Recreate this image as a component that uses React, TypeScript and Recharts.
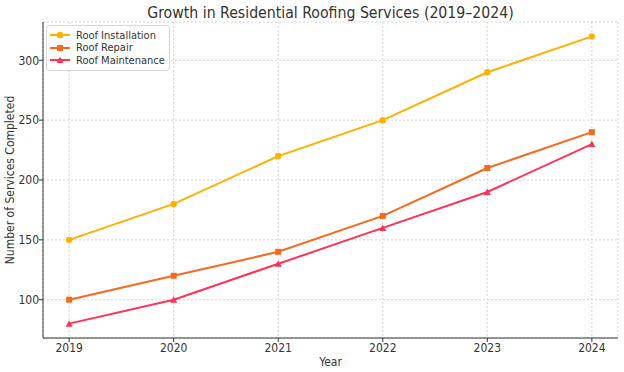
import { LineChart, Line, XAxis, YAxis, CartesianGrid } from "recharts"

// Services completed per year
const years = [2019, 2020, 2021, 2022, 2023, 2024]
const installation = [150, 180, 220, 250, 290, 320]
const repair = [100, 120, 140, 170, 210, 240]
const maintenance = [80, 100, 130, 160, 190, 230]
const yTicks = [100, 150, 200, 250, 300]

const data = years.map((year, i) => ({
  year,
  installation: installation[i],
  repair: repair[i],
  maintenance: maintenance[i],
}))

const series = [
  { key: "installation", name: "Roof Installation", color: "#ffb000", shape: "circle" },
  { key: "repair", name: "Roof Repair", color: "#f7691e", shape: "square" },
  { key: "maintenance", name: "Roof Maintenance", color: "#ff3355", shape: "triangle" },
]

const FONT = "'DejaVu Sans Condensed', 'Liberation Sans', sans-serif"

function Marker({ cx, cy, shape, color }: any) {
  if (cx == null || cy == null) return null
  if (shape === "square") {
    return <rect x={cx - 3} y={cy - 3} width={6} height={6} fill={color} />
  }
  if (shape === "triangle") {
    return <polygon points={`${cx},${cy - 3.5} ${cx - 3.5},${cy + 3} ${cx + 3.5},${cy + 3}`} fill={color} />
  }
  return <circle cx={cx} cy={cy} r={3.2} fill={color} />
}

// legend drawn as plain html so it sits inside the plot like matplotlib's
function LegendBox() {
  return (
    <div
      style={{
        position: "absolute",
        left: 46,
        top: 25,
        border: "1px solid #d8d8d8",
        borderRadius: 3,
        background: "rgba(255,255,255,0.85)",
        padding: "3px 4px 3px 3px",
        fontFamily: FONT,
        fontSize: 11,
        color: "#333",
        whiteSpace: "nowrap",
      }}
    >
      {series.map((s) => (
        <div key={s.key} style={{ display: "flex", alignItems: "center", height: 12.5 }}>
          <svg width={20} height={10} style={{ marginRight: 6 }}>
            <line x1={0} y1={5} x2={20} y2={5} stroke={s.color} strokeWidth={2} />
            <Marker cx={10} cy={5} shape={s.shape} color={s.color} />
          </svg>
          <span>{s.name}</span>
        </div>
      ))}
    </div>
  )
}

export default function App() {
  return (
    <div style={{ position: "absolute", left: 0, top: 0, width: 624, height: 372, background: "#fff" }}>
      <div
        style={{
          position: "absolute",
          left: 43,
          width: 575,
          top: 3,
          textAlign: "center",
          fontFamily: FONT,
          fontSize: 15.7,
          color: "#333",
        }}
      >
        Growth in Residential Roofing Services (2019–2024)
      </div>
      <LineChart width={624} height={372} data={data} margin={{ top: 22, right: 6, bottom: 0, left: 0 }}>
        <CartesianGrid stroke="#d4d4d4" strokeDasharray="2 2" />
        <XAxis
          dataKey="year"
          type="number"
          domain={[2018.75, 2024.25]}
          ticks={years}
          allowDataOverflow
          height={34}
          tickSize={4}
          tickMargin={1}
          stroke="#333"
          tick={{ fill: "#333", fontSize: 12, fontFamily: FONT }}
          label={{ value: "Year", position: "insideBottom", offset: 6, fill: "#333", fontSize: 12, fontFamily: FONT }}
        />
        <YAxis
          type="number"
          domain={[68, 332]}
          ticks={yTicks}
          allowDataOverflow
          width={43}
          tickSize={4}
          tickMargin={0}
          stroke="#333"
          tick={{ fill: "#333", fontSize: 12, fontFamily: FONT }}
          label={{
            value: "Number of Services Completed",
            angle: -90,
            position: "insideLeft",
            offset: 10,
            style: { textAnchor: "middle" },
            fill: "#333",
            fontSize: 12,
            fontFamily: FONT,
          }}
        />
        {series.map((s) => (
          <Line
            key={s.key}
            type="linear"
            dataKey={s.key}
            name={s.name}
            stroke={s.color}
            strokeWidth={2}
            isAnimationActive={false}
            dot={(p: any) => <Marker key={`${s.key}-${p.index}`} cx={p.cx} cy={p.cy} shape={s.shape} color={s.color} />}
            activeDot={false}
          />
        ))}
      </LineChart>
      <LegendBox />
    </div>
  )
}
